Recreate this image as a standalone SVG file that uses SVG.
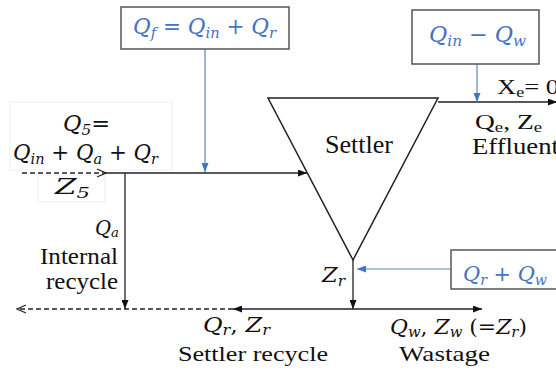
<svg xmlns="http://www.w3.org/2000/svg" width="556" height="370" viewBox="0 0 556 370">
<style>
.bg{fill:#ffffff}
.ln{stroke:#222;stroke-width:1.3;fill:none}
.dash{stroke:#222;stroke-width:1.3;fill:none;stroke-dasharray:5 3}
.bl{stroke:#5b84cf;stroke-width:1.2;fill:none}
.box{fill:#fff;stroke:#555;stroke-width:1.5}
.faint{fill:none;stroke:#f0f0f0;stroke-width:1}
.tri{fill:#fff;stroke:#222;stroke-width:1.5}
.t{font-family:"Liberation Serif","Times New Roman",serif;fill:#111}
.m{font-family:"DejaVu Serif","Liberation Serif",serif;font-style:italic;fill:#111}
.blue{fill:#4472c4}
.op{font-style:normal}
.sub{font-size:0.68em}
</style>
<defs>
<marker id="ah" markerUnits="userSpaceOnUse" markerWidth="9" markerHeight="7" refX="9" refY="3.5" orient="auto"><path d="M0,0 L9,3.5 L0,7 z" fill="#111"/></marker>
<marker id="ahb" markerUnits="userSpaceOnUse" markerWidth="9" markerHeight="7" refX="9" refY="3.5" orient="auto"><path d="M0,0 L9,3.5 L0,7 z" fill="#4472c4"/></marker>
<marker id="ao" markerUnits="userSpaceOnUse" markerWidth="11" markerHeight="10" refX="10" refY="5" orient="auto"><path d="M1,1 L10,5 L1,9" fill="none" stroke="#222" stroke-width="1.2"/></marker>
</defs>
<rect class="bg" x="0" y="0" width="556" height="370"/>

<g id="faint-textboxes">
<rect class="faint" x="10" y="102" width="162" height="68"/>
<rect class="faint" x="38" y="175" width="67" height="27"/>
</g>

<g id="connectors">
<line class="dash" x1="22" y1="173" x2="106" y2="173" marker-end="url(#ao)"/>
<line class="ln" x1="106" y1="173" x2="307" y2="173" marker-end="url(#ah)"/>
<line class="ln" x1="125" y1="173" x2="125" y2="309" marker-end="url(#ah)"/>
<line class="ln" x1="438" y1="102" x2="557" y2="102" marker-end="url(#ah)"/>
<line class="ln" x1="353" y1="260" x2="353" y2="309" marker-end="url(#ah)"/>
<line class="ln" x1="353" y1="309" x2="233" y2="309" marker-end="url(#ah)"/>
<line class="ln" x1="353" y1="309" x2="482" y2="309" marker-end="url(#ah)"/>
<line class="dash" x1="233" y1="309" x2="17" y2="309" marker-end="url(#ao)"/>
<line class="bl" x1="205" y1="49" x2="205" y2="172" marker-end="url(#ahb)"/>
<line class="bl" x1="477" y1="64" x2="477" y2="102" marker-end="url(#ahb)"/>
<line class="bl" x1="451" y1="269" x2="357" y2="269" marker-end="url(#ahb)"/>
</g>

<g id="settler">
<polygon class="tri" points="268,98 438,98 353,260"/>
<text class="t" x="325" y="153" font-size="25" textLength="68" lengthAdjust="spacingAndGlyphs">Settler</text>
</g>

<g id="box-qf">
<rect class="box" x="121" y="7" width="168" height="42"/>
<text class="m blue" x="133" y="34" font-size="22" textLength="143" lengthAdjust="spacingAndGlyphs">Q<tspan class="sub" dy="4">f</tspan><tspan class="op" dy="-4"> = </tspan>Q<tspan class="sub" dy="4">in</tspan><tspan class="op" dy="-4"> + </tspan>Q<tspan class="sub" dy="4">r</tspan></text>
</g>

<g id="box-qe">
<rect class="box" x="412" y="10" width="127" height="54"/>
<text class="m blue" x="429" y="42" font-size="22" textLength="97" lengthAdjust="spacingAndGlyphs">Q<tspan class="sub" dy="4">in</tspan><tspan class="op" dy="-4"> − </tspan>Q<tspan class="sub" dy="4">w</tspan></text>
</g>

<g id="box-qrqw">
<rect class="box" x="451" y="250" width="112" height="39"/>
<text class="m blue" x="463" y="281" font-size="21" textLength="84" lengthAdjust="spacingAndGlyphs">Q<tspan class="sub" dy="4">r</tspan><tspan class="op" dy="-4"> + </tspan>Q<tspan class="sub" dy="4">w</tspan></text>
</g>

<g id="influent">
<text class="m" x="63" y="131" font-size="22" textLength="47" lengthAdjust="spacingAndGlyphs">Q<tspan class="sub" dy="4">5</tspan><tspan class="op" dy="-4">=</tspan></text>
<text class="m" x="13" y="160" font-size="22" textLength="145" lengthAdjust="spacingAndGlyphs">Q<tspan class="sub" dy="4">in</tspan><tspan class="op" dy="-4"> + </tspan>Q<tspan class="sub" dy="4">a</tspan><tspan class="op" dy="-4"> + </tspan>Q<tspan class="sub" dy="4">r</tspan></text>
<text class="m" x="55" y="194" font-size="22" textLength="35" lengthAdjust="spacingAndGlyphs">Z<tspan class="sub" dy="4">5</tspan></text>
</g>

<g id="internal-recycle">
<text class="m" x="95" y="235" font-size="20" textLength="24" lengthAdjust="spacingAndGlyphs">Q<tspan class="sub" dy="2">a</tspan></text>
<text class="t" x="40" y="264" font-size="23" textLength="78" lengthAdjust="spacingAndGlyphs">Internal</text>
<text class="t" x="46" y="289" font-size="23" textLength="72" lengthAdjust="spacingAndGlyphs">recycle</text>
</g>

<g id="effluent">
<text class="t" x="497" y="94" font-size="22" textLength="62" lengthAdjust="spacingAndGlyphs">X<tspan class="sub" dy="3">e</tspan><tspan dy="-3">= 0</tspan></text>
<text class="t" x="475" y="129" font-size="22" textLength="67" lengthAdjust="spacingAndGlyphs">Q<tspan class="sub" dy="3">e</tspan><tspan dy="-3">, Z</tspan><tspan class="sub" dy="3">e</tspan></text>
<text class="t" x="472" y="154" font-size="23" textLength="87" lengthAdjust="spacingAndGlyphs">Effluent</text>
</g>

<g id="underflow">
<text class="m" x="322" y="282" font-size="21" textLength="23" lengthAdjust="spacingAndGlyphs">Z<tspan class="sub" dy="4">r</tspan></text>
</g>

<g id="settler-recycle">
<text class="m" x="203" y="332" font-size="21" textLength="67" lengthAdjust="spacingAndGlyphs">Q<tspan class="sub" dy="3">r</tspan><tspan class="op" dy="-3">, </tspan>Z<tspan class="sub" dy="3">r</tspan></text>
<text class="t" x="178" y="361" font-size="22" textLength="150" lengthAdjust="spacingAndGlyphs">Settler recycle</text>
</g>

<g id="wastage">
<text class="m" x="390" y="334" font-size="21" textLength="137" lengthAdjust="spacingAndGlyphs">Q<tspan class="sub" dy="3">w</tspan><tspan class="op" dy="-3">, </tspan>Z<tspan class="sub" dy="3">w</tspan><tspan class="op" dy="-3"> (=</tspan>Z<tspan class="sub" dy="3">r</tspan><tspan class="op" dy="-3">)</tspan></text>
<text class="t" x="399" y="361" font-size="22" textLength="91" lengthAdjust="spacingAndGlyphs">Wastage</text>
</g>
</svg>
